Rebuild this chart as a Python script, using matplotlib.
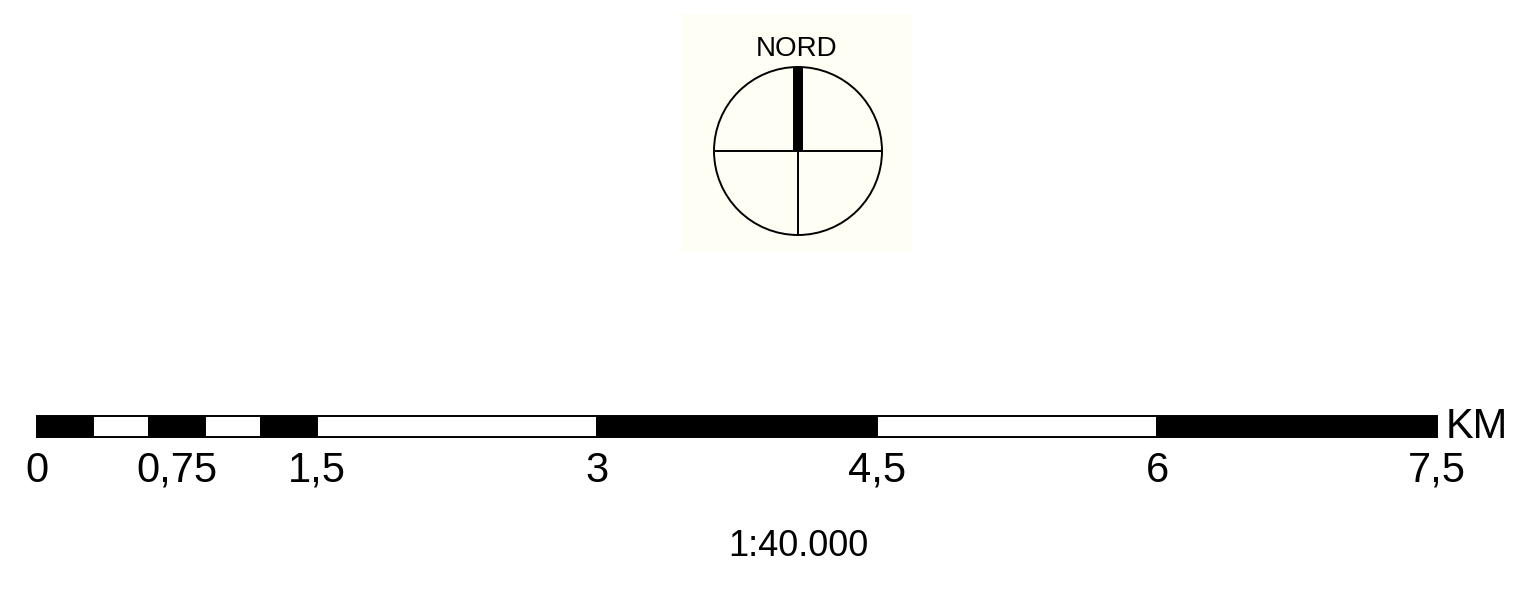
import matplotlib
matplotlib.use("Agg")
import matplotlib.pyplot as plt
from matplotlib.patches import Rectangle, Circle

plt.rcParams['font.family'] = ['Liberation Sans', 'DejaVu Sans']

# scale bar data (km)
seg_edges = [0, 0.3, 0.6, 0.9, 1.2, 1.5, 3, 4.5, 6, 7.5]
seg_colors = ['black', 'white', 'black', 'white', 'black', 'white', 'black', 'white', 'black']
tick_vals = [0, 0.75, 1.5, 3, 4.5, 6, 7.5]
tick_labels = ['0', '0,75', '1,5', '3', '4,5', '6', '7,5']
unit_label = 'KM'
scale_text = '1:40.000'
north_text = 'NORD'

W, H = 1530, 603
fig = plt.figure(figsize=(W / 100, H / 100), dpi=100)
fig.patch.set_facecolor('white')

# north arrow, pixel coords
ax = fig.add_axes([0, 0, 1, 1])
ax.set_xlim(0, W)
ax.set_ylim(H, 0)
ax.axis('off')
ax.add_patch(Rectangle((682, 14), 230, 238, facecolor='#fefef5', edgecolor='none'))
cx, cy, r = 798, 151, 84
ax.add_patch(Circle((cx, cy), r, facecolor='none', edgecolor='black', lw=1.4))
ax.plot([cx - r, cx + r], [cy, cy], color='black', lw=1.4)
ax.plot([cx, cx], [cy, cy + r], color='black', lw=1.4)
ax.add_patch(Rectangle((cx - 5, cy - r), 10, r, facecolor='black', edgecolor='none'))
ax.text(797, 49, north_text, ha='center', va='center', fontsize=20)

# scale bar axes, x in km
sax = fig.add_axes([37 / W, (H - 437) / H, 1400 / W, 21 / H])
sax.set_xlim(0, 7.5)
sax.set_ylim(0, 1)
sax.axis('off')
for x0, x1, c in zip(seg_edges[:-1], seg_edges[1:], seg_colors):
    sax.add_patch(Rectangle((x0, 0), x1 - x0, 1, facecolor=c, edgecolor='black',
                            lw=1.4, clip_on=False))
for v, lab in zip(tick_vals, tick_labels):
    sax.text(v, -1.6, lab, ha='center', va='center', fontsize=30, clip_on=False)
sax.text(7.545, 0.5, unit_label, ha='left', va='center', fontsize=30, clip_on=False)

fig.text(798 / W, 1 - 547 / H, scale_text, ha='center', va='center', fontsize=26)

fig.savefig('out.png', dpi=100, facecolor='white')
